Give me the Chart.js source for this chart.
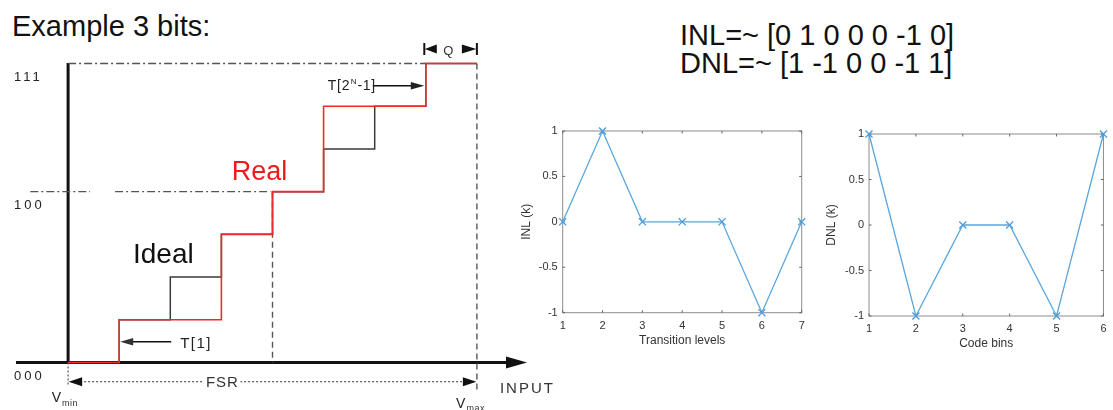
<!DOCTYPE html>
<html>
<head>
<meta charset="utf-8">
<script src="https://cdn.jsdelivr.net/npm/chart.js@4.4.1/dist/chart.umd.min.js"></script>
<style>
  html, body { margin: 0; padding: 0; background: #fff; width: 1113px; height: 410px; overflow: hidden;
    font-family: "Liberation Sans", Arial, Helvetica, sans-serif; }
  canvas { position: absolute; }
  .txt { position: absolute; font-size: 29px; line-height: 29px; color: #111; white-space: pre; }
</style>
</head>
<body>
<div class="txt" id="heading" style="left:12px; top:11.5px;">Example 3 bits:</div>
<div class="txt" id="inlText" style="left:680px; top:21px;"></div>
<div class="txt" id="dnlText" style="left:680px; top:49px;"></div>

<canvas id="transfer" width="560" height="410" style="left:0; top:0;"></canvas>
<canvas id="inl" width="320" height="250" style="left:500px; top:110px;"></canvas>
<canvas id="dnl" width="293" height="250" style="left:820px; top:110px;"></canvas>

<script>
// ---- 3-bit ADC transfer function ----
const codeLevels = [0, 4, 7];
const codeLabels = ['000', '100', '111'];
// transition inputs (in LSB units from Vmin) and the output code reached there
const idealT = [0, 1, 2, 3, 4, 5, 6, 7, 8];
const idealCode = [0, 1, 2, 3, 4, 5, 6, 7, 7];
const realT = [0, 1, 3, 4, 5, 7, 8];
const realCode = [0, 1, 3, 4, 6, 7, 7];

// ---- nonlinearity of the real converter ----
const inlLevels = [1, 2, 3, 4, 5, 6, 7];
const inlValues = [0, 1, 0, 0, 0, -1, 0];
const dnlBins = [1, 2, 3, 4, 5, 6];
const dnlValues = [1, -1, 0, 0, -1, 1];
const nlTicks = [-1, -0.5, 0, 0.5, 1];

document.getElementById('inlText').textContent = 'INL=~ [' + inlValues.join(' ') + ']';
document.getElementById('dnlText').textContent = 'DNL=~ [' + dnlValues.join(' ') + ']';

const FONT = '"Liberation Sans", Arial, Helvetica, sans-serif';
const pts = (xs, ys) => xs.map((v, i) => ({ x: v, y: ys[i] }));

function tri(ctx, tipX, tipY, baseX, half) {
  ctx.beginPath();
  ctx.moveTo(tipX, tipY); ctx.lineTo(baseX, tipY - half); ctx.lineTo(baseX, tipY + half);
  ctx.closePath(); ctx.fill();
}

function text(ctx, str, x, y, size, color, spacing, align) {
  ctx.font = size + 'px ' + FONT;
  ctx.fillStyle = color;
  ctx.letterSpacing = (spacing || 0) + 'px';
  ctx.textAlign = align || 'left';
  ctx.textBaseline = 'alphabetic';
  ctx.fillText(str, x, y);
  ctx.letterSpacing = '0px';
}

const transferDecor = {
  id: 'transferDecor',
  beforeDatasetsDraw(chart) {
    const { ctx, scales: { x, y } } = chart;
    const x0 = x.getPixelForValue(0), y0 = y.getPixelForValue(0);
    ctx.save();
    ctx.strokeStyle = '#111'; ctx.fillStyle = '#111'; ctx.lineWidth = 3;
    // input axis with arrow
    ctx.beginPath();
    ctx.moveTo(x.getPixelForValue(-1.02), y0);
    ctx.lineTo(x.getPixelForValue(8.6), y0);
    ctx.stroke();
    tri(ctx, x.getPixelForValue(8.98), y0, x.getPixelForValue(8.57), 6);
    // output code axis
    ctx.beginPath();
    ctx.moveTo(x0, y0 + 1.5);
    ctx.lineTo(x0, y.getPixelForValue(7) - 0.5);
    ctx.stroke();
    ctx.restore();
  },
  afterDatasetsDraw(chart) {
    const { ctx, scales: { x, y } } = chart;
    const X = v => x.getPixelForValue(v), Y = v => y.getPixelForValue(v);
    ctx.save();
    // code labels
    codeLevels.forEach((lv, i) => text(ctx, codeLabels[i], 14, Y(lv) + 17.5, 13, '#222', 3));

    // FSR span
    const yF = Y(-0.45);
    ctx.strokeStyle = '#555'; ctx.lineWidth = 1.2; ctx.setLineDash([2, 2]);
    ctx.beginPath(); ctx.moveTo(X(0) + 8, yF); ctx.lineTo(X(8) - 8, yF); ctx.stroke();
    ctx.setLineDash([]);
    ctx.fillStyle = '#111';
    tri(ctx, X(0) + 0.5, yF, X(0) + 14, 4.5);
    tri(ctx, X(8) - 0.5, yF, X(8) - 14, 4.5);
    ctx.fillStyle = '#fff';
    ctx.fillRect(X(3) - 19, yF - 7, 38, 14);
    text(ctx, 'FSR', X(3) + 1, yF + 5.5, 15, '#333', 1, 'center');

    // Vmin / Vmax
    text(ctx, 'V', X(0) - 16.4, 401.7, 14, '#222');
    text(ctx, 'min', X(0) - 6, 405.5, 9, '#333', 0.5);
    text(ctx, 'V', X(8) - 21, 407.5, 14, '#222');
    text(ctx, 'max', X(8) - 10.5, 410.5, 9, '#333', 0.5);

    // INPUT
    text(ctx, 'INPUT', X(8) + 23, 392.6, 15, '#333', 2);

    // T[1] marker
    const yT1 = Y(0.487);
    ctx.strokeStyle = '#111'; ctx.lineWidth = 1.5;
    ctx.beginPath(); ctx.moveTo(X(1) + 52, yT1); ctx.lineTo(X(1) + 12, yT1); ctx.stroke();
    tri(ctx, X(1) + 1, yT1, X(1) + 14, 3.8);
    text(ctx, 'T[1]', X(1) + 61, 348, 15, '#222', 1.5);

    // T[2^N-1] marker
    const yTN = Y(6.48);
    ctx.beginPath(); ctx.moveTo(X(7) - 53, yTN); ctx.lineTo(X(7) - 12, yTN); ctx.stroke();
    tri(ctx, X(7) - 1.5, yTN, X(7) - 15, 3.8);
    let tx = X(7) - 98;
    text(ctx, 'T[2', tx, 90.2, 14, '#222', 0.7);
    ctx.font = '14px ' + FONT; ctx.letterSpacing = '0.7px';
    tx += ctx.measureText('T[2').width; ctx.letterSpacing = '0px';
    text(ctx, 'N', tx + 0.5, 84, 8, '#222');
    ctx.font = '8px ' + FONT;
    tx += ctx.measureText('N').width + 1.5;
    text(ctx, '-1]', tx, 90.2, 14, '#222', 0.7);

    // Q (one LSB) marker
    const yQ = 49, xa = X(7) - 1.5, xb = X(8);
    ctx.fillStyle = '#111'; ctx.lineWidth = 2;
    ctx.beginPath(); ctx.moveTo(xa, yQ - 6); ctx.lineTo(xa, yQ + 6); ctx.moveTo(xb, yQ - 6); ctx.lineTo(xb, yQ + 6); ctx.stroke();
    tri(ctx, xa + 0.5, yQ, xa + 12.5, 4.5);
    tri(ctx, xb - 0.5, yQ, xb - 15, 4.5);
    text(ctx, 'Q', xa + 24, yQ + 5.5, 13, '#333', 0, 'center');

    // curve names
    text(ctx, 'Real', 231.7, 180, 27, '#f01a1a');
    text(ctx, 'Ideal', 133, 262.7, 28, '#111');
    ctx.restore();
  }
};

const refLine = (data, dash, width) => ({
  data, borderColor: '#555', borderWidth: width || 1.4, borderDash: dash,
  pointRadius: 0, fill: false, spanGaps: false
});

new Chart(document.getElementById('transfer'), {
  type: 'line',
  data: {
    datasets: [
      { label: 'Real', data: pts(realT, realCode), stepped: 'before', borderColor: '#ee2b2b',
        borderWidth: 1.6, pointRadius: 0, fill: false },
      { label: 'Ideal', data: pts(idealT, idealCode), stepped: 'before', borderColor: '#3a3a3a',
        borderWidth: 1.5, pointRadius: 0, fill: false },
      refLine([{ x: 0, y: 7 }, { x: 7, y: 7 }], [8, 3, 2, 3], 1.3),
      refLine([{ x: -0.74, y: 4 }, { x: 0.43, y: 4 }, { x: 0.6, y: null }, { x: 0.92, y: 4 }, { x: 3.96, y: 4 }], [8, 3, 2, 3], 1.3),
      refLine([{ x: 4, y: 4 }, { x: 4, y: 0 }], [6, 4], 1.4),
      refLine([{ x: 8, y: 7 }, { x: 8, y: -0.69 }], [6, 4], 1.4),
      refLine([{ x: 0, y: 0 }, { x: 0, y: -0.54 }], [2, 2], 1.2)
    ]
  },
  options: {
    responsive: false, animation: false, events: [],
    layout: { padding: { left: 17, right: 32, top: 20.8, bottom: 4.8 } },
    plugins: { legend: { display: false }, tooltip: { enabled: false } },
    scales: {
      x: { type: 'linear', min: -1, max: 9, display: false },
      y: { type: 'linear', min: -1, max: 8, display: false }
    }
  },
  plugins: [transferDecor]
});

// ---- MATLAB-style INL / DNL plots ----
const boxAxes = {
  id: 'boxAxes',
  beforeDatasetsDraw(chart) {
    const { ctx, chartArea: a, scales: { x, y } } = chart;
    ctx.save();
    ctx.strokeStyle = '#8c8c8c'; ctx.lineWidth = 1;
    ctx.strokeRect(a.left, a.top, a.right - a.left, a.bottom - a.top);
    ctx.strokeStyle = '#666';
    ctx.beginPath();
    x.ticks.forEach(t => {
      const p = x.getPixelForValue(t.value);
      ctx.moveTo(p, a.bottom); ctx.lineTo(p, a.bottom - 2.5);
      ctx.moveTo(p, a.top); ctx.lineTo(p, a.top + 2.5);
    });
    y.ticks.forEach(t => {
      const p = y.getPixelForValue(t.value);
      ctx.moveTo(a.left, p); ctx.lineTo(a.left + 2.5, p);
      ctx.moveTo(a.right, p); ctx.lineTo(a.right - 2.5, p);
    });
    ctx.stroke();
    ctx.restore();
  }
};

function nlChart(id, xs, ys, xTitle, yTitle, g) {
  return new Chart(document.getElementById(id), {
    type: 'line',
    data: {
      datasets: [{
        data: pts(xs, ys), borderColor: '#5aa6de', borderWidth: 1.3, tension: 0, fill: false,
        pointStyle: 'crossRot', pointRadius: 5, pointBorderColor: '#4d9ddb', pointBorderWidth: 1.3,
        clip: false
      }]
    },
    options: {
      responsive: false, animation: false, events: [],
      layout: { padding: { left: 0, bottom: 0, top: g.top, right: g.right } },
      plugins: { legend: { display: false }, tooltip: { enabled: false } },
      scales: {
        x: {
          type: 'linear', min: xs[0], max: xs[xs.length - 1],
          afterBuildTicks: s => { s.ticks = xs.map(v => ({ value: v })); },
          ticks: { font: { family: FONT, size: 11 }, color: '#333', padding: 6.5,
            callback: v => String(v) },
          grid: { display: false, drawTicks: false }, border: { display: false },
          title: { display: true, text: xTitle, color: '#333', font: { family: FONT, size: 12 },
            padding: { top: 0, bottom: g.xTitlePad } },
          afterFit: s => { s.height = g.xh; }
        },
        y: {
          type: 'linear', min: -1, max: 1,
          afterBuildTicks: s => { s.ticks = nlTicks.map(v => ({ value: v })); },
          ticks: { font: { family: FONT, size: 11 }, color: '#333', padding: 5,
            callback: v => String(v) },
          grid: { display: false, drawTicks: false }, border: { display: false },
          title: { display: true, text: yTitle, color: '#333', font: { family: FONT, size: 12 },
            padding: { top: g.yTitlePad, bottom: 0 } },
          afterFit: s => { s.width = g.yw; }
        }
      }
    },
    plugins: [boxAxes]
  });
}

nlChart('inl', inlLevels, inlValues, 'Transition levels', 'INL (k)',
  { top: 21, right: 18.3, xh: 47.3, yw: 62.7, xTitlePad: 11.8, yTitlePad: 19.5 });
nlChart('dnl', dnlBins, dnlValues, 'Code bins', 'DNL (k)',
  { top: 24, right: 6.3, xh: 44, yw: 49, xTitlePad: 8.8, yTitlePad: 4.8 });
</script>
</body>
</html>
